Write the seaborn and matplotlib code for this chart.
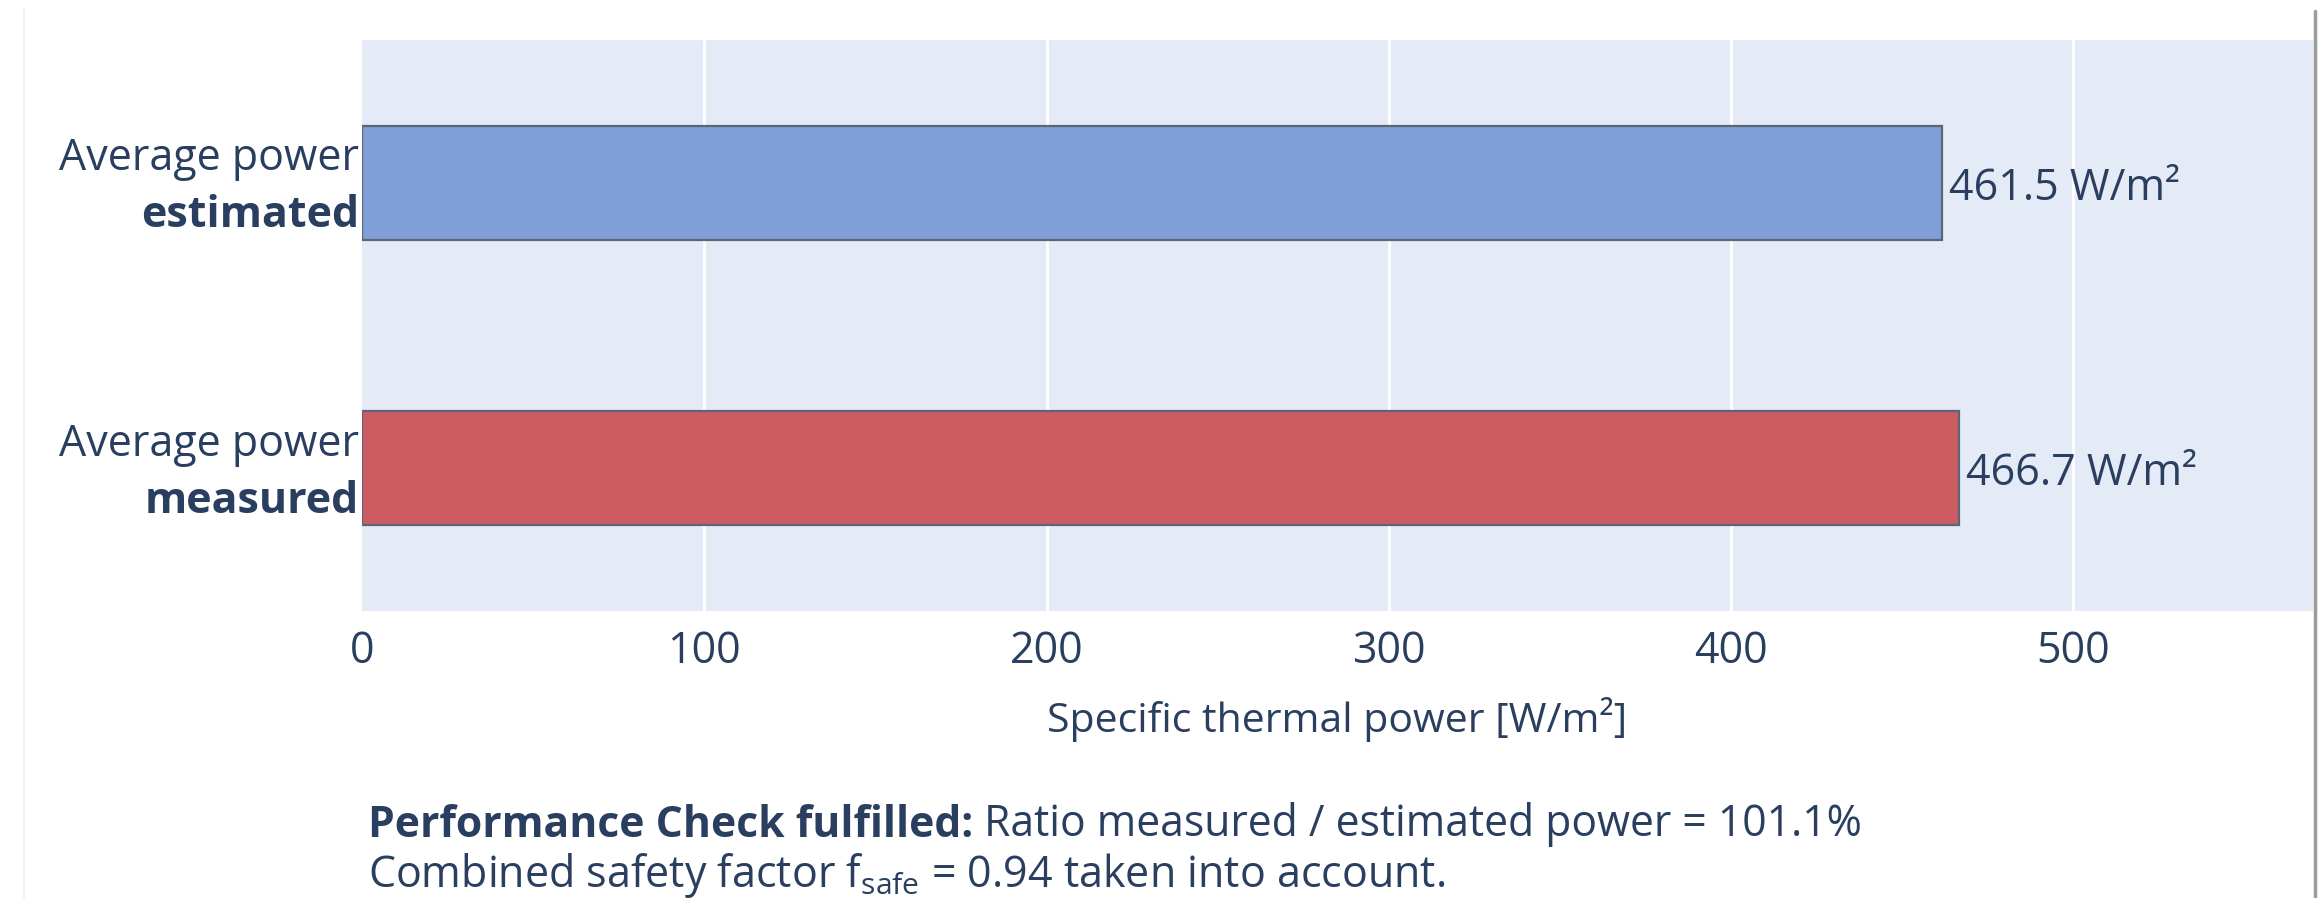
import matplotlib
matplotlib.use("Agg")
import matplotlib.pyplot as plt
from matplotlib.lines import Line2D
import seaborn as sns
import pandas as pd

# Data
categories = ["estimated", "measured"]
label_prefix = ["Average power", "Average power"]
power_values = [461.5, 466.7]
bar_colors = ["#7f9fd6", "#cd5c62"]
x_ticks = [0, 100, 200, 300, 400, 500]
x_max = 570
axis_title = "Specific thermal power [W/m²]"
unit = "W/m²"
ratio_pct = 101.1
safety_factor = 0.94

TEXT = "#2a3f5f"
FONT = "Open Sans"
FS = 31

sns.set_theme(style="white")
plt.rcParams["font.family"] = [FONT, "DejaVu Sans"]
plt.rcParams["mathtext.fontset"] = "custom"
plt.rcParams["mathtext.rm"] = FONT
plt.rcParams["mathtext.it"] = FONT

df = pd.DataFrame({"category": categories, "power": power_values})

fig = plt.figure(figsize=(23.2, 8.98), dpi=100, facecolor="white")
ax = fig.add_axes([362 / 2320, 1 - 611 / 898, (2313 - 362) / 2320, (611 - 40) / 898])
ax.set_facecolor("#e5ebf6")

sns.barplot(
    data=df, y="category", x="power", hue="category",
    palette=dict(zip(categories, bar_colors)), orient="h", width=0.4,
    saturation=1, edgecolor="#5b6576", linewidth=1.6, legend=False,
    ax=ax, zorder=3,
)

ax.set_xlim(0, x_max)
ax.set_ylim(1.5, -0.5)
ax.set_xticks(x_ticks)
ax.set_xticklabels([str(t) for t in x_ticks], fontsize=FS, color=TEXT)
ax.tick_params(axis="x", length=0, pad=13)
ax.tick_params(axis="y", length=0)
ax.set_yticks(range(len(categories)))
ax.set_yticklabels([""] * len(categories))
ax.set_xlabel("")
ax.set_ylabel("")
for x in x_ticks[1:]:
    ax.axvline(x, color="white", lw=2, zorder=1)
for s in ax.spines.values():
    s.set_visible(False)

# Two-line category labels: regular prefix, bold category name
for i, (pre, cat) in enumerate(zip(label_prefix, categories)):
    ax.annotate(pre, xy=(0, i), xycoords=("axes fraction", "data"),
                xytext=(-2, 9), textcoords="offset points",
                ha="right", va="baseline", fontsize=FS, color=TEXT)
    ax.annotate(cat, xy=(0, i), xycoords=("axes fraction", "data"),
                xytext=(-2, -32), textcoords="offset points",
                ha="right", va="baseline", fontsize=FS, color=TEXT,
                fontweight="bold")

# Value labels at the end of each bar
for cont, v in zip(ax.containers, power_values):
    lbls = ax.bar_label(cont, labels=[f"{v} {unit}"], padding=5,
                        fontsize=FS, color=TEXT)
    for t in lbls:
        t.set_va("center_baseline")

fig.text((362 + 2313) / 2 / 2320, 1 - 720 / 898, axis_title,
         ha="center", va="center", fontsize=29.5, color=TEXT)

# Summary text below the chart
t1 = fig.text(368 / 2320, 1 - 837 / 898, "Performance Check fulfilled:",
              ha="left", va="baseline", fontsize=30.7, color=TEXT, fontweight="bold")
ax.annotate(f" Ratio measured / estimated power = {ratio_pct}%",
            xy=(1, 0), xycoords=t1, ha="left", va="bottom",
            fontsize=30.7, color=TEXT, annotation_clip=False)
fig.text(368 / 2320, 1 - 887 / 898,
         r"Combined safety factor f$_{\mathrm{safe}}$" + f" = {safety_factor} taken into account.",
         ha="left", va="baseline", fontsize=FS, color=TEXT)

# Card borders
fig.add_artist(Line2D([24 / 2320, 24 / 2320], [0, 1 - 10 / 898],
                      transform=fig.transFigure, color="#ececec", lw=1.2))
fig.add_artist(Line2D([2315 / 2320, 2315 / 2320], [0, 1 - 11 / 898],
                      transform=fig.transFigure, color="#9c9c9c", lw=2.5))

fig.savefig("out.png", dpi=100, facecolor="white")
